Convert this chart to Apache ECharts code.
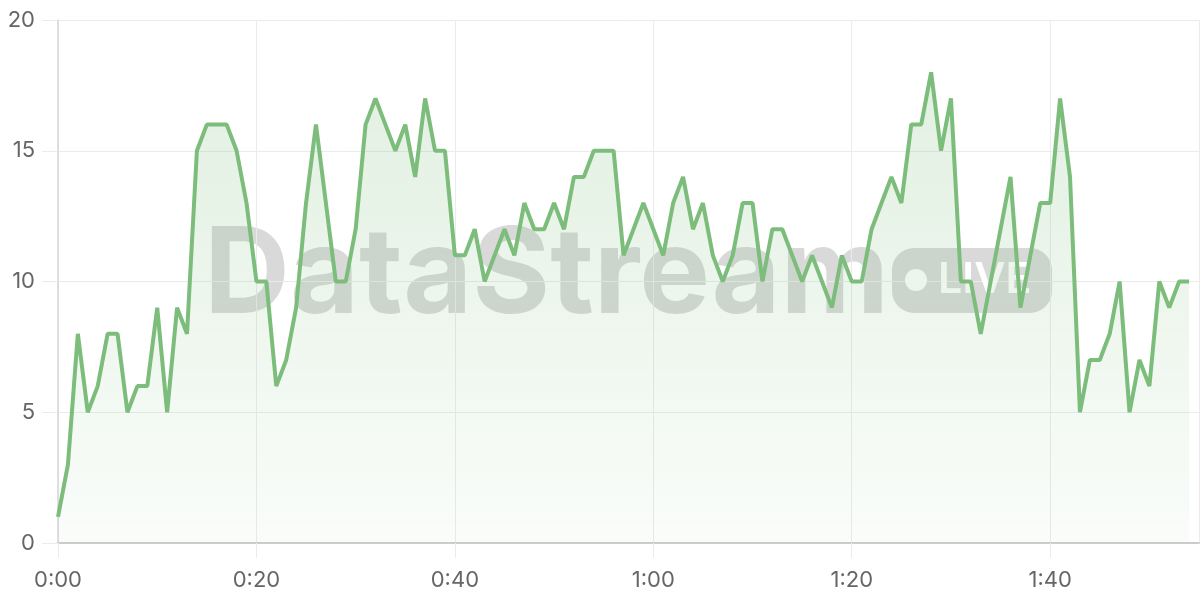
<!DOCTYPE html>
<html>
<head>
<meta charset="utf-8">
<script src="https://cdn.jsdelivr.net/npm/echarts@6/dist/echarts.min.js"></script>
<style>
  html, body { margin: 0; padding: 0; background: #fff; }
  #main { width: 1200px; height: 600px; }
</style>
</head>
<body>
<div id="main"></div>
<script>
// one reading per minute, starting at 0:00
var values = [
  1, 3, 8, 5, 6, 8, 8, 5, 6, 6,
  9, 5, 9, 8, 15, 16, 16, 16, 15, 13,
  10, 10, 6, 7, 9, 13, 16, 13, 10, 10,
  12, 16, 17, 16, 15, 16, 14, 17, 15, 15,
  11, 11, 12, 10, 11, 12, 11, 13, 12, 12,
  13, 12, 14, 14, 15, 15, 15, 11, 12, 13,
  12, 11, 13, 14, 12, 13, 11, 10, 11, 13,
  13, 10, 12, 12, 11, 10, 11, 10, 9, 11,
  10, 10, 12, 13, 14, 13, 16, 16, 18, 15,
  17, 10, 10, 8, 10, 12, 14, 9, 11, 13,
  13, 17, 14, 5, 7, 7, 8, 10, 5, 7,
  6, 10, 9, 10, 10
];
var yTicks = [0, 5, 10, 15, 20];
var xTickMinutes = [0, 20, 40, 60, 80, 100];

var seriesData = values.map(function (v, i) { return [i, v]; });

function fmtMinutes(m) {
  var h = Math.floor(m / 60);
  var mm = m % 60;
  return h + ':' + (mm < 10 ? '0' + mm : mm);
}

var myChart = echarts.init(document.getElementById('main'));
var labelFont = { color: '#666', fontSize: 22, fontFamily: 'Inter, "Noto Sans", sans-serif' };
var gridColor = '#ebebeb';

myChart.setOption({
  animation: false,
  grid: { left: 58, right: 1, top: 20, bottom: 57 },
  graphic: [
    // watermark, sits under the series
    {
      type: 'text', z: 0, left: 204, top: 218,
      style: {
        text: 'DataStream', fill: 'rgba(0,0,0,0.15)',
        font: 'bold 119px Inter, "Noto Sans", sans-serif'
      }
    },
    {
      type: 'rect', z: 0,
      shape: { x: 892, y: 248, width: 160, height: 65, r: 22 },
      style: { fill: 'rgba(0,0,0,0.15)' }
    },
    {
      type: 'circle', z: 1,
      shape: { cx: 916, cy: 280, r: 11 },
      style: { fill: '#fff' }
    },
    {
      type: 'text', z: 1, left: 938, top: 259,
      style: {
        text: 'LIVE', fill: '#fff',
        font: '600 43px Inter, "Noto Sans", sans-serif'
      }
    }
  ],
  xAxis: {
    type: 'value',
    min: 0,
    max: 115,
    interval: 20,
    axisLine: { show: true, lineStyle: { color: '#cccccc', width: 2 } },
    axisTick: { show: true, length: 15, lineStyle: { color: gridColor } },
    axisLabel: Object.assign({
      margin: 26,
      showMaxLabel: false,
      formatter: function (v) {
        return xTickMinutes.indexOf(v) >= 0 ? fmtMinutes(v) : '';
      }
    }, labelFont),
    splitLine: { show: true, lineStyle: { color: gridColor } }
  },
  yAxis: {
    type: 'value',
    min: yTicks[0],
    max: yTicks[yTicks.length - 1],
    interval: 5,
    axisLine: { show: true, lineStyle: { color: '#d6d6d6', width: 1.5 } },
    axisTick: { show: true, length: 16, lineStyle: { color: gridColor } },
    axisLabel: Object.assign({ margin: 23 }, labelFont),
    splitLine: { show: true, lineStyle: { color: gridColor } }
  },
  series: [
    {
      type: 'line',
      data: seriesData,
      symbol: 'none',
      smooth: false,
      lineStyle: { color: '#7cbd7c', width: 4 },
      itemStyle: { color: '#7cbd7c' },
      areaStyle: {
        color: new echarts.graphic.LinearGradient(0, 0, 0, 1, [
          { offset: 0, color: 'rgba(124,189,124,0.32)' },
          { offset: 1, color: 'rgba(124,189,124,0.06)' }
        ])
      }
    }
  ]
});
</script>
</body>
</html>
